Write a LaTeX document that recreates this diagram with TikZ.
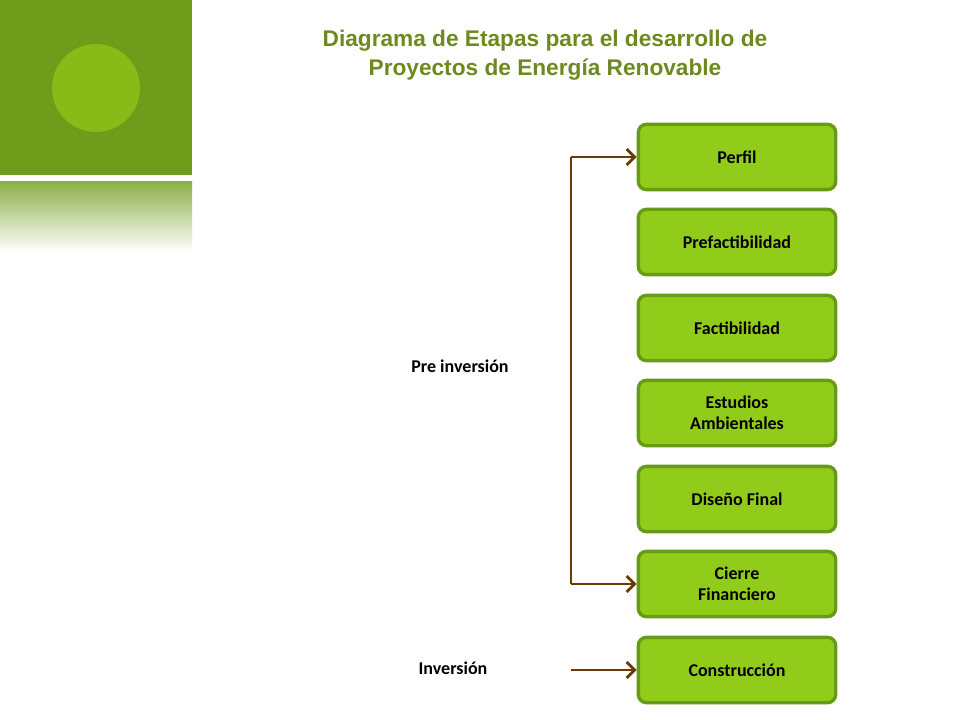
\documentclass[tikz,border=0pt]{standalone}
\usepackage{fontspec}
\setmainfont{Carlito}
\newfontfamily\titlefont{Liberation Sans}
\usetikzlibrary{arrows.meta}
\definecolor{leafdark}{HTML}{6F9C1A}
\definecolor{leaflight}{HTML}{88BB18}
\definecolor{boxfill}{HTML}{92CC1A}
\definecolor{boxline}{HTML}{679A16}
\definecolor{arrowbrown}{HTML}{6A3A08}
\definecolor{titleolive}{HTML}{6E8A1E}
\tikzset{every picture/.style={line width=0.75pt}}
\tikzset{stage/.style={draw=boxline,line width=2.5pt,fill=boxfill,rounded corners=6pt,minimum width=148pt,minimum height=49pt,align=center,font=\fontsize{13.5}{16}\selectfont\bfseries},
  link/.style={draw=arrowbrown,line width=2.2pt,-{Straight Barb[length=6pt,width=12pt]}}}
\begin{document}
\begin{tikzpicture}[x=0.75pt,y=0.75pt,yscale=-1,xscale=1]
\useasboundingbox (0,0) rectangle (960,720);
%Shape: Corner square
\fill[leafdark] (0,0) rectangle (192,175);
\fill[leaflight] (96,88) circle (44);
\shade[top color=leafdark!80,bottom color=white] (0,182) rectangle (192,252);

% Title
\node [font=\titlefont\fontsize{17}{22}\selectfont\bfseries,text=titleolive,align=center] (title) at (545,55) {Diagrama de Etapas para el desarrollo de\\Proyectos de Energía Renovable};

% Stages
\node [stage] (perfil) at (737,157) {Perfil};
\node [stage] (prefact) at (737,242) {Prefactibilidad};
\node [stage] (fact) at (737,328) {Factibilidad};
\node [stage] (ambient) at (737,413) {Estudios\\Ambientales};
\node [stage] (diseno) at (737,499) {Diseño Final};
\node [stage] (cierre) at (737,584) {Cierre\\Financiero};
\node [stage] (constr) at (737,670) {Construcción};

% Labels
\node [font=\fontsize{13.5}{16}\selectfont\bfseries] (preinv) at (460,366) {Pre inversión};
\node [font=\fontsize{13.5}{16}\selectfont\bfseries] (inv) at (453,668) {Inversión};

% Connectors
\coordinate (btop) at (571,157);
\coordinate (bbot) at (571,584);
\coordinate (istart) at (571,670);
\draw [draw=arrowbrown,line width=2.2pt] (btop) -- (bbot);
\draw [link] (btop) -- (perfil.west);
\draw [link] (bbot) -- (cierre.west);
\draw [link] (istart) -- (constr.west);
\end{tikzpicture}
\end{document}
